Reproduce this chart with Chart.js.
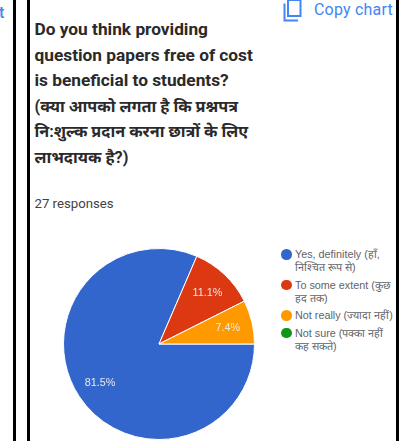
<!DOCTYPE html>
<html>
<head>
<meta charset="utf-8">
<style>
  html, body { margin: 0; padding: 0; background: #fff; }
  #page { position: relative; width: 409px; height: 441px; overflow: hidden; font-family: Roboto, "Noto Sans", sans-serif; }
  .rule { position: absolute; top: 0; bottom: 0; width: 3px; background: #000; }
  #pie { position: absolute; left: 62px; top: 247px; width: 194px; height: 194px; }
  #title { position: absolute; left: 34.5px; top: 17px; font-size: 17.3px; font-weight: 700; line-height: 25.5px; color: #2a2a2a; white-space: nowrap; }
  #title .hi { font-size: 16.2px; }
  #count { position: absolute; left: 34.5px; top: 195px; font-size: 13.2px; line-height: 17px; color: #424242; white-space: nowrap; }
  #copy { position: absolute; left: 314px; top: 1px; font-size: 16px; font-weight: 400; line-height: 18px; letter-spacing: 0.2px; color: #4285f4; white-space: nowrap; }
  #tail { position: absolute; left: -1px; top: 4px; font-size: 16px; font-weight: 500; line-height: 18px; color: #4285f4; }
  #copyIcon { position: absolute; left: 283px; top: 0; }
  #legend { position: absolute; left: 281px; top: 248px; width: 120px; font-family: "Liberation Sans", Arial, sans-serif; font-size: 10.8px; line-height: 13px; color: #5f6368; }
  .item { position: relative; padding-left: 14px; margin-bottom: 4.5px; white-space: nowrap; }
  .dot { position: absolute; left: 0; top: 1px; width: 10.5px; height: 10.5px; border-radius: 50%; }
</style>
<script src="https://cdn.jsdelivr.net/npm/chart.js@4"></script>
</head>
<body>
<div id="page">
  <div class="rule" style="left:13px"></div>
  <div class="rule" style="left:26.5px"></div>
  <div class="rule" style="left:396px"></div>
  <div id="tail">t</div>
  <svg id="copyIcon" width="20" height="22" viewBox="0 0 20 22">
    <path d="M1.5 3.5V20.5H15" fill="none" stroke="#4285f4" stroke-width="2"/>
    <rect x="5" y="0" width="12.5" height="16" fill="none" stroke="#4285f4" stroke-width="2"/>
  </svg>
  <div id="copy">Copy chart</div>
  <div id="title"></div>
  <div id="count"></div>
  <canvas id="pie" width="194" height="194"></canvas>
  <div id="legend"></div>
</div>
<script>
// Survey question and response summary
const titleLatin = [
  "Do you think providing",
  "question papers free of cost",
  "is beneficial to students?"
];
const titleHindi = [
  "(क्या आपको लगता है कि प्रश्नपत्र",
  "नि:शुल्क प्रदान करना छात्रों के लिए",
  "लाभदायक है?)"
];
const responseText = "27 responses";
const categoryLines = [
  ["Yes, definitely (हाँ,", "निश्चित रूप से)"],
  ["To some extent (कुछ", "हद तक)"],
  ["Not really (ज्यादा नहीं)"],
  ["Not sure (पक्का नहीं", "कह सकते)"]
];
const responses = [22, 3, 2, 0];
const percentLabels = ["81.5%", "11.1%", "7.4%", ""];
const sliceColors = ["#3366cc", "#dc3912", "#ff9900", "#109618"];

document.getElementById("title").innerHTML =
  titleLatin.join("<br>") + '<br><span class="hi">' + titleHindi.join("<br>") + "</span>";
document.getElementById("count").textContent = responseText;

// Legend with manually wrapped labels, as two-line entries need fixed breaks
const legendBox = document.getElementById("legend");
categoryLines.forEach((lines, i) => {
  const row = document.createElement("div");
  row.className = "item";
  row.innerHTML = '<span class="dot" style="background:' + sliceColors[i] + '"></span>' + lines.join("<br>");
  legendBox.appendChild(row);
});

// Writes each percentage inside its slice, three quarters of the way to the rim
const sliceLabels = {
  id: "sliceLabels",
  afterDatasetsDraw(chart) {
    const ctx = chart.ctx;
    ctx.save();
    ctx.font = '10.8px "Liberation Sans", Arial, sans-serif';
    ctx.fillStyle = "#e8e8e8";
    ctx.textAlign = "center";
    ctx.textBaseline = "middle";
    chart.getDatasetMeta(0).data.forEach((arc, i) => {
      if (!percentLabels[i]) return;
      const mid = (arc.startAngle + arc.endAngle) / 2;
      const r = arc.outerRadius * 0.74;
      ctx.fillText(percentLabels[i], arc.x + Math.cos(mid) * r, arc.y + Math.sin(mid) * r);
    });
    ctx.restore();
  }
};

new Chart(document.getElementById("pie"), {
  type: "pie",
  data: {
    labels: categoryLines.map(l => l.join(" ")),
    datasets: [{
      data: responses,
      backgroundColor: sliceColors,
      borderColor: "#ffffff",
      borderWidth: 1
    }]
  },
  options: {
    responsive: false,
    animation: false,
    rotation: 90,
    layout: { padding: 1 },
    plugins: { legend: { display: false }, tooltip: { enabled: false } }
  },
  plugins: [sliceLabels]
});
</script>
</body>
</html>
